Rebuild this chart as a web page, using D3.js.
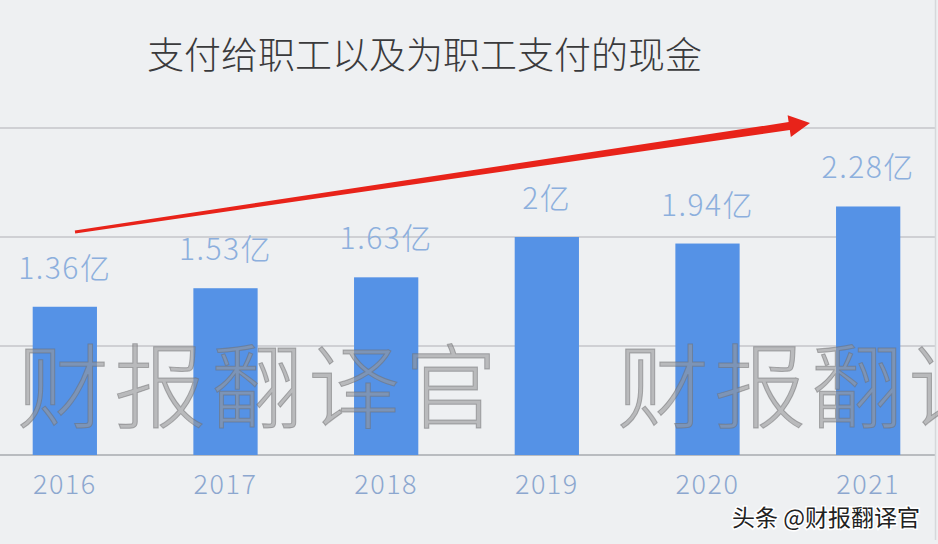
<!DOCTYPE html>
<html><head><meta charset="utf-8">
<script src="https://cdn.jsdelivr.net/npm/d3@7/dist/d3.min.js"></script>
<style>html,body{margin:0;padding:0;background:#eef0f2;overflow:hidden}</style>
</head><body><svg id="c" width="938" height="544"></svg>
<script>
const years = ["2016","2017","2018","2019","2020","2021"];
const values = [1.36, 1.53, 1.63, 2, 1.94, 2.28];
const gridTicks = [0, 1, 2, 3];
const title = "支付给职工以及为职工支付的现金";
const unit = "亿";
const watermark = "财报翻译官";
const footer = "头条 @财报翻译官";

const svg = d3.select("#c");
const W = 938, H = 544;
const font = "'Noto Sans CJK SC','Noto Sans',sans-serif";

svg.append("rect").attr("width", W).attr("height", H).attr("fill", "#eef0f2");

const x = d3.scaleBand().domain(years).range([-15.5, 948.5]).paddingInner(0.6).paddingOuter(0.3);
const y = d3.scaleLinear().domain([0, 3]).range([455, 128]);

// gridlines
svg.append("g").selectAll("line").data(gridTicks).join("line")
  .attr("x1", 0).attr("x2", 935)
  .attr("y1", d => y(d)).attr("y2", d => y(d))
  .attr("stroke", d => d === 0 ? "#b9bcc0" : "#c4c6ca")
  .attr("stroke-width", d => d === 0 ? 2 : 1.5);

// right border
svg.append("line").attr("x1", 935.5).attr("x2", 935.5).attr("y1", 0).attr("y2", 540)
  .attr("stroke", "#d6d8db").attr("stroke-width", 1.5);

// bars
svg.append("g").selectAll("rect").data(values).join("rect")
  .attr("x", (d, i) => x(years[i]))
  .attr("width", x.bandwidth())
  .attr("y", d => y(d))
  .attr("height", d => y(0) - y(d))
  .attr("fill", "#5592e6");

// value labels
svg.append("g").selectAll("text").data(values).join("text")
  .attr("x", (d, i) => x(years[i]) + x.bandwidth() / 2)
  .attr("y", d => y(d) - 28)
  .attr("text-anchor", "middle")
  .attr("font-family", font).attr("font-weight", 300)
  .attr("font-size", 30).attr("letter-spacing", 1.5).attr("fill", "#8cafdd")
  .text(d => d + unit);

// x axis labels
const xAxis = d3.axisBottom(x).tickSize(0).tickPadding(0);
const gx = svg.append("g").attr("transform", "translate(0,494)").call(xAxis);
gx.select(".domain").remove();
gx.selectAll("text").attr("font-family", font).attr("font-weight", 300)
  .attr("font-size", 27).attr("letter-spacing", 1.5).attr("fill", "#8ca7cf").attr("dy", 0);

// watermark
[17, 617].forEach(x0 => {
  svg.append("text").attr("x", x0).attr("y", 421)
    .attr("font-family", font).attr("font-weight", 300)
    .attr("font-size", 92).attr("letter-spacing", 5)
    .attr("fill", "rgba(150,150,152,0.6)")
    .attr("stroke", "rgba(110,110,112,0.5)").attr("stroke-width", 1)
    .text(watermark);
});

// title
svg.append("text").attr("x", 147).attr("y", 69)
  .attr("font-family", font).attr("font-weight", 300)
  .attr("font-size", 37).attr("fill", "#3a3a3c").text(title);

// red arrow annotation
const ax0 = 75, ay0 = 232, ax1 = 810, ay1 = 123;
const ang = Math.atan2(ay1 - ay0, ax1 - ax0);
const headLen = 21, headW = 11;
const bx = ax1 - headLen * Math.cos(ang), by = ay1 - headLen * Math.sin(ang);
const nx = -Math.sin(ang), ny = Math.cos(ang);
const w0 = 1.5, w1 = 4;
const pts = [
  [ax0 + nx * w0, ay0 + ny * w0],
  [bx + nx * w1, by + ny * w1],
  [bx + nx * headW, by + ny * headW],
  [ax1, ay1],
  [bx - nx * headW, by - ny * headW],
  [bx - nx * w1, by - ny * w1],
  [ax0 - nx * w0, ay0 - ny * w0]
];
svg.append("path").attr("d", d3.line()(pts) + "Z").attr("fill", "#e8231a");

// footer
svg.append("text").attr("x", 920).attr("y", 526).attr("text-anchor", "end")
  .attr("font-family", font).attr("font-size", 23).attr("fill", "#222")
  .attr("stroke", "#ffffff").attr("stroke-width", 3).attr("paint-order", "stroke")
  .text(footer);
</script></body></html>
